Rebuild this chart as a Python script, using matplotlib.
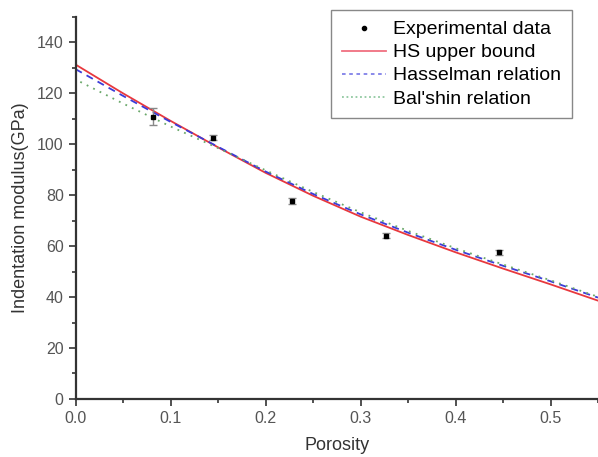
import matplotlib.pyplot as plt
from matplotlib.lines import Line2D
from matplotlib.ticker import MultipleLocator

plt.rcParams['font.family'] = ['Liberation Sans', 'DejaVu Sans']

# experimental points
porosity = [0.082, 0.145, 0.228, 0.327, 0.446]
modulus = [110.8, 102.6, 77.7, 64.1, 57.6]
modulus_err = [3.3, 1.0, 1.3, 1.1, 0.9]

# model curves
x_model = [0.0, 0.05, 0.10, 0.15, 0.20, 0.25, 0.30, 0.35, 0.40, 0.45, 0.50, 0.55]
hs_upper = [131.3, 120.0, 109.2, 98.8, 88.8, 79.8, 71.6, 64.4, 57.6, 51.2, 45.0, 38.6]
hasselman = [129.5, 119.0, 108.8, 99.0, 89.3, 80.5, 72.5, 65.3, 58.6, 52.3, 46.2, 39.8]
x_balshin = [0.005, 0.05, 0.10, 0.15, 0.20, 0.25, 0.30, 0.35, 0.40, 0.45, 0.50, 0.55]
balshin = [124.5, 116.0, 107.0, 98.5, 89.8, 81.3, 73.3, 66.0, 59.2, 52.8, 46.6, 40.1]

fig = plt.figure(figsize=(5.98, 4.57), dpi=100)
ax = fig.add_axes([0.1263, 0.127, 0.8737, 0.836])

ax.plot(x_model, hs_upper, color='#e8383d', lw=1.3)
ax.plot(x_model, hasselman, color='#3c3cd8', lw=1.3, ls=(0, (4, 3)))
ax.plot(x_balshin, balshin, color='#6aa86a', lw=1.3, ls=(0, (1, 3)))
ax.errorbar(porosity, modulus, yerr=modulus_err, fmt='s', color='black',
            ms=3.5, ecolor='#888888', elinewidth=1, capsize=3, capthick=1)

ax.set_xlim(0, 0.55)
ax.set_ylim(0, 150)
ax.xaxis.set_major_locator(MultipleLocator(0.1))
ax.xaxis.set_minor_locator(MultipleLocator(0.05))
ax.yaxis.set_minor_locator(MultipleLocator(10))
ax.set_yticks(range(0, 141, 20))

for side in ['top', 'right']:
    ax.spines[side].set_visible(False)
for side in ['left', 'bottom']:
    ax.spines[side].set_linewidth(1.6)
    ax.spines[side].set_color('#333333')

ax.tick_params(which='major', direction='out', length=5, width=1.2,
               color='#333333', labelsize=11.5, labelcolor='#555555')
ax.tick_params(which='minor', direction='out', length=3, width=1.2, color='#333333')

ax.set_xlabel('Porosity', fontsize=13, color='#333333', labelpad=8)
ax.set_ylabel('Indentation modulus(GPa)', fontsize=13, color='#333333', labelpad=6)

handles = [
    Line2D([], [], ls='none', marker='o', ms=3, color='black'),
    Line2D([], [], color='#f07080', lw=1.3),
    Line2D([], [], color='#8080e8', lw=1.3, ls=(0, (2, 2))),
    Line2D([], [], color='#90c8a0', lw=1.3, ls=(0, (1, 1.5))),
]
labels = ['Experimental data', 'HS upper bound', 'Hasselman relation', "Bal'shin relation"]
leg = ax.legend(handles, labels, loc='upper right', bbox_to_anchor=(0.95, 1.018),
                borderaxespad=0, fontsize=14, fancybox=False, edgecolor='#888888',
                framealpha=1, handlelength=2.3, handletextpad=0.35, borderpad=0.55,
                labelspacing=0.28)
leg.get_frame().set_linewidth(1.0)

fig.savefig('out.png', dpi=100)
